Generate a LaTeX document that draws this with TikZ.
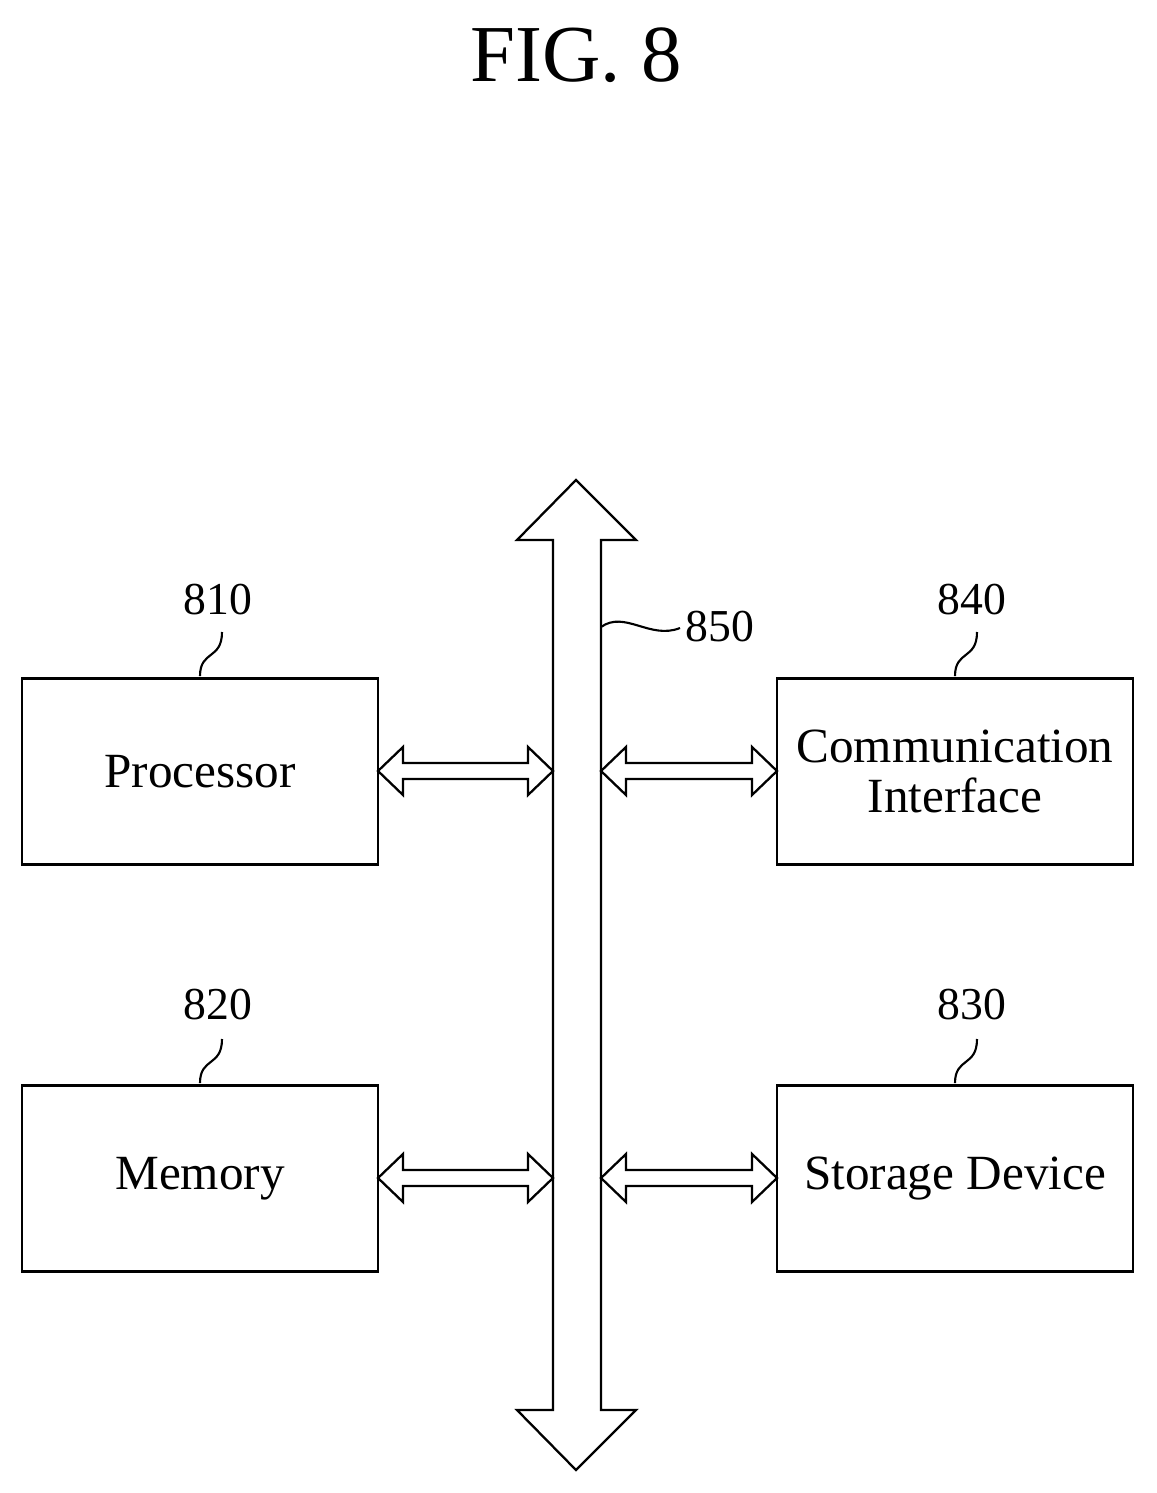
\documentclass[tikz,border=0pt]{standalone}
\usepackage{fontspec}
\setmainfont{Liberation Serif}
\begin{document}
\newcommand\dblarr[3]{%
\draw[arr] (#1,#3) -- ++(25,-24) -- ++(0,16) -- (#2-25,#3-8) -- ++(0,-16) -- (#2,#3) -- ++(-25,24) -- ++(0,-16) -- (#1+25,#3+8) -- ++(0,16) -- cycle;}
\begin{tikzpicture}[x=0.02cm,y=-0.02cm,
  box/.style={draw,line width=1.6pt,minimum width=356*0.02cm,minimum height=186*0.02cm,inner sep=0pt,font=\fontsize{28}{32}\selectfont,align=center},
  num/.style={font=\fontsize{26}{30}\selectfont},
  arr/.style={line width=1.3pt,line join=miter}]
\useasboundingbox (0,0) rectangle (1156,1493);
\node[font=\fontsize{46}{50}\selectfont] (title) at (576,55) {FIG. 8};
\node[box] (proc) at (200,771.5) {Processor};
\node[box] (comm) at (955,771.5) {Communication\\[-4pt]Interface};
\node[box] (mem) at (200,1178.5) {Memory};
\node[box] (stor) at (955,1178.5) {Storage Device};
\draw[arr] (576,480) coordinate (bustop) -- (636,540) -- (601,540) -- (601,1410) -- (636,1410) -- (576,1470) -- (517,1410) -- (553,1410) -- (553,540) -- (517,540) -- cycle;
\coordinate (bus) at (601,627);
\dblarr{378}{553}{771}
\dblarr{601}{777}{771}
\dblarr{378}{553}{1178}
\dblarr{601}{777}{1178}
\node[num] (n810) at (218,600) {810};
\node[num] (n840) at (972,600) {840};
\node[num] (n820) at (218,1005) {820};
\node[num] (n830) at (972,1005) {830};
\node[num] (n850) at (720,627) {850};
\draw[line width=1.2pt] (proc.north) ++(0,-1) .. controls (200,650) and (222,660) .. (222,632);
\draw[line width=1.2pt] (comm.north) ++(0,-1) .. controls (955,650) and (977,660) .. (977,632);
\draw[line width=1.2pt] (mem.north) ++(0,-1) .. controls (200,1057) and (222,1067) .. (222,1039);
\draw[line width=1.2pt] (stor.north) ++(0,-1) .. controls (955,1057) and (977,1067) .. (977,1039);
\draw[line width=1.2pt] (bus) .. controls (625,610) and (650,640) .. (680,628);
\end{tikzpicture}
\end{document}
